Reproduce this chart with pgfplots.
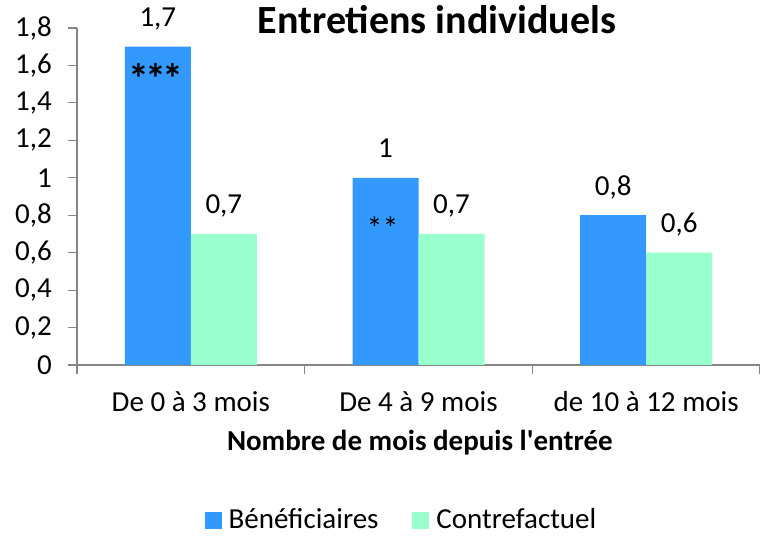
\documentclass[border=0pt]{standalone}
\usepackage{fontspec}
\setmainfont{Carlito}
\usepackage{pgfplots}
\pgfplotsset{compat=1.18}
\definecolor{benef}{RGB}{51,153,255}
\definecolor{contre}{RGB}{153,255,204}
\definecolor{axgray}{RGB}{134,134,134}
\pgfplotsset{/pgf/number format/use comma, /pgf/number format/assume math mode=true}
\begin{document}
\fontsize{29bp}{35bp}\selectfont
\begin{tikzpicture}[x=1bp,y=1bp]
\path[use as bounding box] (0,0) rectangle (760,538);
\begin{axis}[
  at={(77bp,173bp)}, anchor=south west,
  scale only axis, width=683bp, height=337bp,
  xmin=-0.5, xmax=2.5, ymin=0, ymax=1.8,
  axis x line*=bottom, axis y line*=left,
  axis line style={axgray, line width=2bp},
  tick align=outside,
  major tick length=9bp, minor tick length=9bp,
  ytick={0,0.2,0.4,0.6,0.8,1,1.2,1.4,1.6,1.8},
  yticklabel style={inner sep=0pt, xshift=-16bp},
  ytick style={axgray, line width=1.2bp},
  xtick={0,1,2},
  xticklabels={De 0 à 3 mois, De 4 à 9 mois, de 10 à 12 mois},
  major x tick style={draw=none},
  minor xtick={-0.5,0.5,1.5,2.5},
  minor x tick style={axgray, line width=1.2bp},
  xticklabel style={inner sep=0pt, yshift=-17bp},
  xlabel={\bfseries Nombre de mois depuis l\textquotesingle entrée},
  xlabel style={at={(axis description cs:0.502,-0.2315)}, anchor=center},
  title={\bfseries Entretiens individuels},
  title style={at={(axis description cs:0.527,0.966)}, anchor=base, font=\fontsize{40bp}{48bp}\selectfont},
  ybar=0pt, bar width=66bp,
  nodes near coords={\pgfmathprintnumber{\pgfplotspointmeta}},
  every node near coord/.append style={anchor=base, inner sep=0pt, yshift=20bp, black},
  legend style={draw=none, fill=none, legend columns=2, at={(0.4750,-0.463)}, anchor=center,
    inner sep=0pt, nodes={inner ysep=0pt},
    /tikz/every even column/.append style={column sep=32bp}},
  legend image code/.code={\fill[#1] (-4bp,-7.5bp) rectangle (13bp,9.5bp); \path (18bp,0bp);},
  clip=false,
]
\addplot[fill=benef, draw=none] coordinates {(0,1.7) (1,1.0) (2,0.8)};
\addplot[fill=contre, draw=none] coordinates {(0,0.7) (1,0.7) (2,0.6)};
\legend{Bénéficiaires, Contrefactuel}
\node[font=\fontsize{42bp}{46bp}\selectfont\bfseries, inner sep=0pt] at (axis cs:0,1.7) [xshift=-35bp, yshift=-32bp] {*\kern-4bp*\kern-4bp*};
\node[font=\fontsize{32bp}{40bp}\selectfont, inner sep=0pt] at (axis cs:1,1.0) [xshift=-36bp, yshift=-50bp] {**};
\end{axis}
\end{tikzpicture}
\end{document}
